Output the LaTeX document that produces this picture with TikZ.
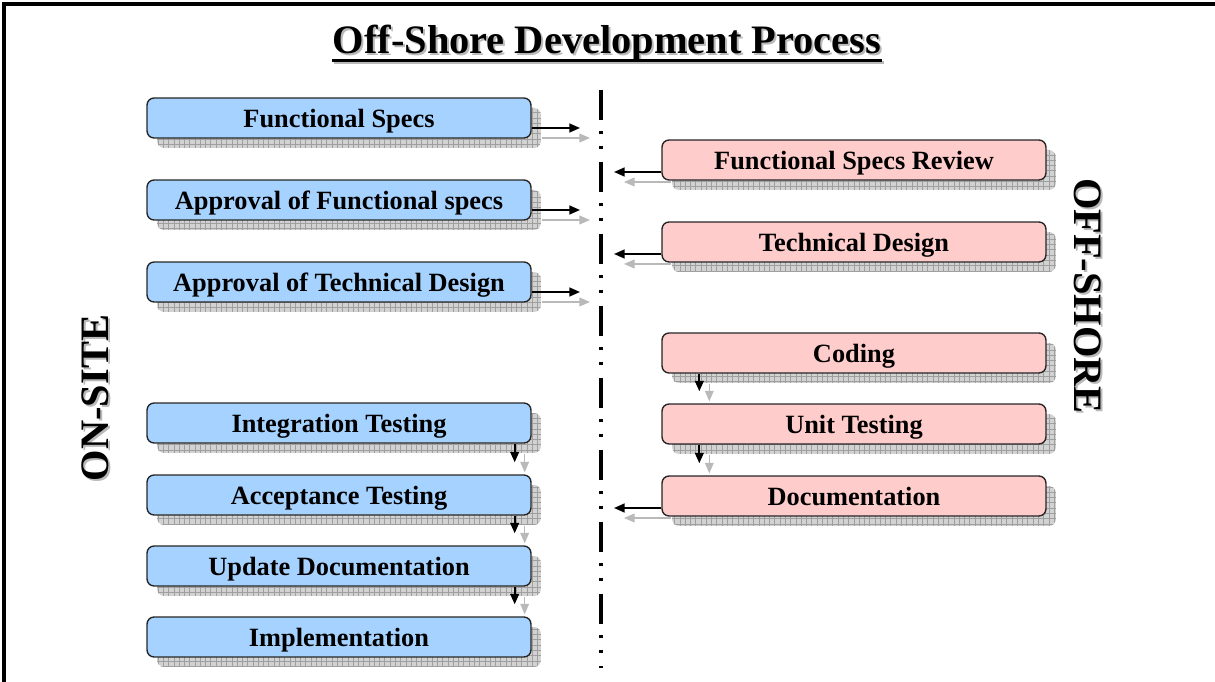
\documentclass[tikz,border=0pt]{standalone}
\usepackage{fontspec}
\setmainfont{Liberation Serif}
\usetikzlibrary{arrows.meta, positioning, shadows, patterns}
\definecolor{onblue}{HTML}{A6D2FF}
\definecolor{offpink}{HTML}{FFCCCC}

\begin{document}
\begin{tikzpicture}[x=0.02cm, y=-0.02cm, >={Triangle[length=6pt, width=5pt]},
    onbox/.style={rectangle, rounded corners=4pt, draw=black!85, line width=0.8pt, fill=onblue,
      minimum width=7.68cm, minimum height=0.8cm, inner sep=0pt,
      text height=14.5pt, text depth=4pt,
      font=\fontsize{15}{18}\selectfont\bfseries,
      drop shadow={shadow xshift=0.2cm, shadow yshift=-0.2cm, fill=gray!35, opacity=1,
        postaction={pattern=grid, pattern color=gray!75}}},
    offbox/.style={onbox, fill=offpink},
    arr/.style={->, line width=1pt, black},
    shd/.style={->, line width=0.7pt, gray!55, transform canvas={xshift=0.2cm, yshift=-0.2cm}},
    bigtxt/.style={font=\fontsize{23}{27}\selectfont\bfseries, inner sep=0pt},
    txtshd/.style={bigtxt, text=gray!55},
    divider/.style={line width=2pt, dash pattern=on 0.6cm off 0.22cm on 0.06cm off 0.24cm on 0.06cm off 0.26cm},
  ]
    \useasboundingbox (0,0) rectangle (1215,682);
    % frame
    \draw[line width=2.3pt] (4,682) -- (4,4) -- (1215,4);

    % title and side labels
    \node[txtshd] (title-sh) at (609,46) {Off-Shore Development Process};
    \node[bigtxt] (title) at (607,44) {Off-Shore Development Process};
    \draw[line width=1.6pt, gray!55] ([shift={(2,0)}]title.south west) -- ([shift={(2,0)}]title.south east);
    \draw[line width=1.6pt] ([yshift=0.04cm]title.south west) -- ([yshift=0.04cm]title.south east);
    \node[txtshd, rotate=90] (onsite-sh) at (97,400) {ON-SITE};
    \node[bigtxt, rotate=90] (onsite) at (95,398) {ON-SITE};
    \node[txtshd, rotate=-90] (offshore-sh) at (1090,298) {OFF-SHORE};
    \node[bigtxt, rotate=-90] (offshore) at (1088,296) {OFF-SHORE};

    % dividing line
    \draw[divider] (601,90) -- (601,668);
    \coordinate (inL) at (580,0);
    \coordinate (inR) at (614,0);

    % on-site steps
    \node[onbox] (on0) at (339,118) {Functional Specs};
    \node[onbox] (on1) at (339,200) {Approval of Functional specs};
    \node[onbox] (on2) at (339,282) {Approval of Technical Design};
    \node[onbox] (on3) at (339,423) {Integration Testing};
    \node[onbox] (on4) at (339,495) {Acceptance Testing};
    \node[onbox] (on5) at (339,566) {Update Documentation};
    \node[onbox] (on6) at (339,637) {Implementation};

    % off-shore steps
    \node[offbox] (off0) at (854,160) {Functional Specs Review};
    \node[offbox] (off1) at (854,242) {Technical Design};
    \node[offbox] (off2) at (854,353) {Coding};
    \node[offbox] (off3) at (854,424) {Unit Testing};
    \node[offbox] (off4) at (854,496) {Documentation};

    % hand-overs to off-shore
    \draw[shd] ([yshift=-0.2cm]on0.east) -- ([yshift=-0.2cm]on0.east -| inL);
    \draw[arr] ([yshift=-0.2cm]on0.east) -- ([yshift=-0.2cm]on0.east -| inL);
    \draw[shd] ([yshift=-0.2cm]on1.east) -- ([yshift=-0.2cm]on1.east -| inL);
    \draw[arr] ([yshift=-0.2cm]on1.east) -- ([yshift=-0.2cm]on1.east -| inL);
    \draw[shd] ([yshift=-0.2cm]on2.east) -- ([yshift=-0.2cm]on2.east -| inL);
    \draw[arr] ([yshift=-0.2cm]on2.east) -- ([yshift=-0.2cm]on2.east -| inL);

    % hand-overs back to on-site
    \draw[shd] ([yshift=-0.24cm]off0.west) -- ([yshift=-0.24cm]off0.west -| inR);
    \draw[arr] ([yshift=-0.24cm]off0.west) -- ([yshift=-0.24cm]off0.west -| inR);
    \draw[shd] ([yshift=-0.24cm]off1.west) -- ([yshift=-0.24cm]off1.west -| inR);
    \draw[arr] ([yshift=-0.24cm]off1.west) -- ([yshift=-0.24cm]off1.west -| inR);
    \draw[shd] ([yshift=-0.24cm]off4.west) -- ([yshift=-0.24cm]off4.west -| inR);
    \draw[arr] ([yshift=-0.24cm]off4.west) -- ([yshift=-0.24cm]off4.west -| inR);

    % sequences
    \draw[shd, shorten >=0.24cm] ([xshift=-0.34cm]on3.south east) -- ([xshift=-0.34cm]on4.north east);
    \draw[arr, shorten >=0.24cm] ([xshift=-0.34cm]on3.south east) -- ([xshift=-0.34cm]on4.north east);
    \draw[shd, shorten >=0.24cm] ([xshift=-0.34cm]on4.south east) -- ([xshift=-0.34cm]on5.north east);
    \draw[arr, shorten >=0.24cm] ([xshift=-0.34cm]on4.south east) -- ([xshift=-0.34cm]on5.north east);
    \draw[shd, shorten >=0.24cm] ([xshift=-0.34cm]on5.south east) -- ([xshift=-0.34cm]on6.north east);
    \draw[arr, shorten >=0.24cm] ([xshift=-0.34cm]on5.south east) -- ([xshift=-0.34cm]on6.north east);
    \draw[shd, shorten >=0.24cm] ([xshift=0.76cm]off2.south west) -- ([xshift=0.76cm]off3.north west);
    \draw[arr, shorten >=0.24cm] ([xshift=0.76cm]off2.south west) -- ([xshift=0.76cm]off3.north west);
    \draw[shd, shorten >=0.24cm] ([xshift=0.76cm]off3.south west) -- ([xshift=0.76cm]off4.north west);
    \draw[arr, shorten >=0.24cm] ([xshift=0.76cm]off3.south west) -- ([xshift=0.76cm]off4.north west);
  \end{tikzpicture}
\end{document}
